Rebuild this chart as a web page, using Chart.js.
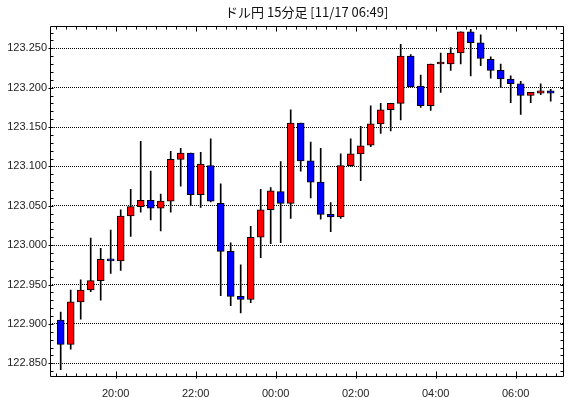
<!DOCTYPE html>
<html>
<head>
<meta charset="utf-8">
<script src="https://cdn.jsdelivr.net/npm/chart.js@4"></script>
<style>
  body { margin: 0; background: #fff; }
  #wrap { width: 570px; height: 398px; }
</style>
</head>
<body>
<div id="wrap"><canvas id="myChart"></canvas></div>
<script>
const title = "ドル円 15分足 [11/17 06:49]"

// candle start times (15 min)
const times = [
  "18:30", "18:45", "19:00", "19:15", "19:30", "19:45",
  "20:00", "20:15", "20:30", "20:45", "21:00", "21:15", "21:30", "21:45",
  "22:00", "22:15", "22:30", "22:45", "23:00", "23:15", "23:30", "23:45",
  "00:00", "00:15", "00:30", "00:45", "01:00", "01:15", "01:30", "01:45",
  "02:00", "02:15", "02:30", "02:45", "03:00", "03:15", "03:30", "03:45",
  "04:00", "04:15", "04:30", "04:45", "05:00", "05:15", "05:30", "05:45",
  "06:00", "06:15", "06:30", "06:45",
]
const tickLabels = ["20:00", "22:00", "00:00", "02:00", "04:00", "06:00"]

const open = [
  122.905, 122.874, 122.928, 122.943, 122.955, 122.982, 122.980, 123.037, 123.049, 123.057,
  123.047, 123.056, 123.109, 123.117, 123.064, 123.101, 123.053, 122.992, 122.935, 122.931,
  123.010, 123.045, 123.068, 123.053, 123.155, 123.107, 123.080, 123.039, 123.036, 123.101,
  123.116, 123.127, 123.154, 123.172, 123.180, 123.240, 123.202, 123.177, 123.230, 123.230,
  123.244, 123.271, 123.257, 123.236, 123.222, 123.211, 123.205, 123.190, 123.193, 123.196,
]
const high = [
  122.915, 122.943, 122.956, 123.009, 122.996, 123.019, 123.045, 123.071, 123.132, 123.094,
  123.065, 123.119, 123.123, 123.117, 123.118, 123.135, 123.078, 123.003, 122.975, 123.024,
  123.071, 123.073, 123.106, 123.172, 123.155, 123.131, 123.123, 123.054, 123.116, 123.135,
  123.151, 123.177, 123.180, 123.180, 123.255, 123.242, 123.216, 123.230, 123.244, 123.251,
  123.271, 123.274, 123.267, 123.239, 123.230, 123.215, 123.208, 123.194, 123.205, 123.198,
]
const low = [
  122.842, 122.868, 122.906, 122.941, 122.930, 122.964, 122.968, 123.011, 123.042, 123.032,
  123.018, 123.042, 123.075, 123.050, 123.048, 123.055, 122.936, 122.923, 122.914, 122.927,
  122.984, 123.002, 123.003, 123.034, 123.094, 123.060, 123.033, 123.017, 123.034, 123.100,
  123.082, 123.125, 123.142, 123.145, 123.159, 123.201, 123.175, 123.171, 123.194, 123.222,
  123.230, 123.215, 123.228, 123.212, 123.200, 123.181, 123.166, 123.181, 123.191, 123.183,
]
const close = [
  122.874, 122.928, 122.943, 122.955, 122.982, 122.980, 123.037, 123.049, 123.057, 123.047,
  123.056, 123.109, 123.117, 123.064, 123.103, 123.056, 122.992, 122.935, 122.931, 123.010,
  123.045, 123.069, 123.053, 123.155, 123.107, 123.080, 123.039, 123.036, 123.101, 123.116,
  123.126, 123.154, 123.172, 123.180, 123.240, 123.201, 123.177, 123.230, 123.230, 123.244,
  123.271, 123.257, 123.237, 123.222, 123.211, 123.205, 123.190, 123.194, 123.196, 123.193,
]

const yMin = 122.8332
const yMax = 123.2783

// each candle sits in the middle of its 15 min slot
const bodies = times.map((t, i) => ({ x: i + 0.5, y: [open[i], close[i]] }))
const wicks = times.map((t, i) => ({ x: i + 0.5, y: [low[i], high[i]] }))
const bodyColors = open.map((o, i) => close[i] >= o ? "#ff0000" : "#0000ff")

// frame + inward tick marks like the original chart
const frameTicks = {
  id: "frameTicks",
  afterDatasetsDraw(chart) {
    const { ctx, chartArea: a, scales } = chart
    const xs = scales.x, ys = scales.y
    ctx.save()
    ctx.strokeStyle = "#000"
    ctx.lineWidth = 1
    const L = Math.round(a.left) + 0.5, R = Math.round(a.right) - 0.5
    const T = Math.round(a.top) + 0.5, B = Math.round(a.bottom) - 0.5
    ctx.beginPath()
    ctx.rect(L, T, R - L, B - T)
    // y ticks every 0.01
    for (let k = Math.ceil(yMin * 100); k <= Math.floor(yMax * 100); k++) {
      const py = Math.round(ys.getPixelForValue(k / 100)) + 0.5
      const major = k % 5 === 0
      ctx.moveTo(major ? L - 2 : L, py); ctx.lineTo(L + 3, py)
      ctx.moveTo(R, py); ctx.lineTo(R - 3, py)
    }
    // x ticks every slot
    for (let k = Math.ceil(xs.min); k <= Math.floor(xs.max); k++) {
      const px = Math.round(xs.getPixelForValue(k)) + 0.5
      const major = tickLabels.includes(times[k])
      ctx.moveTo(px, major ? B + 2 : B); ctx.lineTo(px, B - (major ? 5 : 3))
      ctx.moveTo(px, T); ctx.lineTo(px, T + (major ? 5 : 3))
    }
    ctx.stroke()
    ctx.restore()
  }
}

const config = {
  type: "bar",
  data: {
    datasets: [
      {
        label: "body",
        data: bodies,
        backgroundColor: bodyColors,
        borderColor: "#000",
        borderWidth: 1,
        borderSkipped: false,
        barThickness: 7,
        minBarLength: 2,
        grouped: false,
        order: 0,
      },
      {
        label: "wick",
        data: wicks,
        backgroundColor: "#000",
        borderWidth: 0,
        barThickness: 1,
        grouped: false,
        order: 1,
      },
    ],
  },
  options: {
    responsive: true,
    maintainAspectRatio: false,
    animation: false,
    devicePixelRatio: 1,
    layout: { padding: { top: 0, right: 6.5, bottom: 0, left: 0 } },
    plugins: {
      legend: { display: false },
      tooltip: { enabled: false },
      title: {
        display: true,
        text: title,
        fullSize: false,
        color: "#111",
        font: { family: "'Noto Sans CJK JP', 'Liberation Sans', sans-serif", size: 13, weight: "normal", lineHeight: 1.2 },
        padding: { top: 4.5, bottom: 5.9 },
      },
    },
    scales: {
      x: {
        type: "linear",
        offset: false,
        min: -0.57,
        max: 50.78,
        grid: { display: false },
        border: { display: false },
        ticks: {
          stepSize: 1,
          includeBounds: false,
          autoSkip: false,
          maxRotation: 0,
          padding: 3,
          color: "#222",
          font: { family: "'Liberation Sans', sans-serif", size: 11 },
          callback: (v) => tickLabels.includes(times[v]) ? times[v] : "",
        },
        afterFit: (s) => { s.height = 21.5 },
      },
      y: {
        min: yMin,
        max: yMax,
        grid: { color: "#000", lineWidth: 1, drawTicks: false },
        border: { display: false, dash: [1, 1] },
        ticks: {
          stepSize: 0.05,
          includeBounds: false,
          padding: 3,
          color: "#222",
          font: { family: "'Liberation Sans', sans-serif", size: 11 },
          callback: (v) => v.toFixed(3),
        },
        afterFit: (s) => { s.width = 50 },
      },
    },
  },
  plugins: [frameTicks],
}

const MyChart = new Chart(document.getElementById("myChart"), config)
</script>
</body>
</html>
